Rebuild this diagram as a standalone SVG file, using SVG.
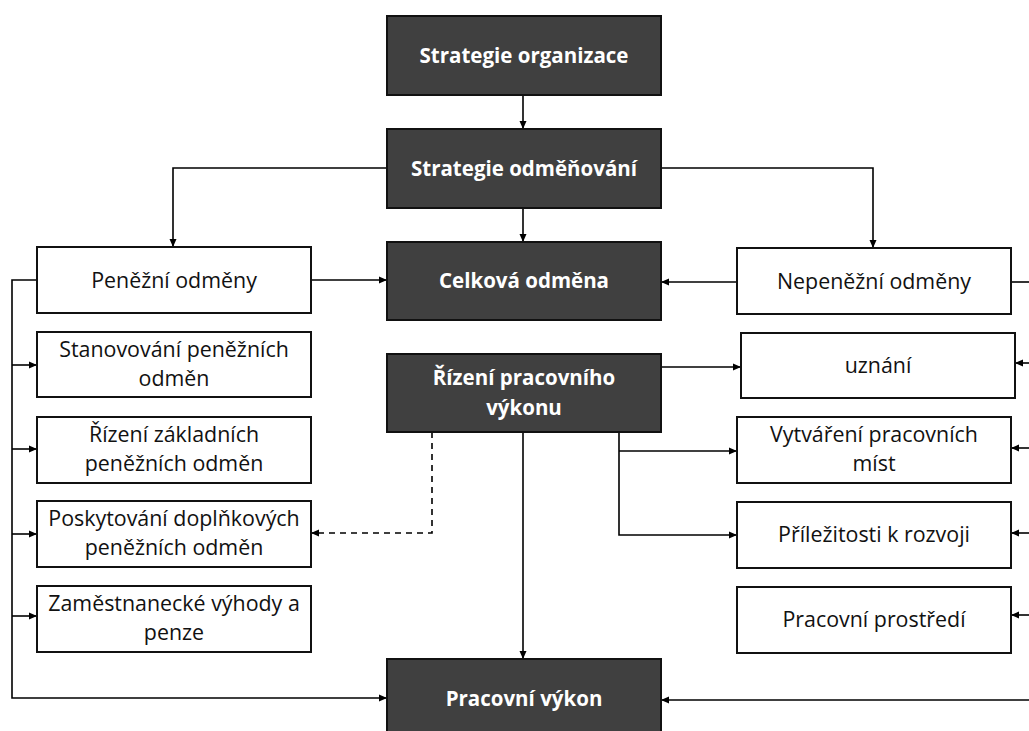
<svg xmlns="http://www.w3.org/2000/svg" width="1029" height="731" viewBox="0 0 1029 731">
<defs>
<marker id="ah" markerUnits="userSpaceOnUse" markerWidth="9" markerHeight="8" refX="8" refY="4" orient="auto">
<path d="M0,0.5 L8,4 L0,7.5 z" fill="#000"/>
</marker>
<style>
.dark{fill:#404040;stroke:#111;stroke-width:2}
.light{fill:#fff;stroke:#111;stroke-width:2}
.tb{font-family:"Open Sans","Liberation Sans",sans-serif;font-weight:bold;font-size:20.5px;fill:#fff;text-anchor:middle}
.tr{font-family:"Open Sans","Liberation Sans",sans-serif;font-size:21.4px;fill:#111;text-anchor:middle}
.c{fill:none;stroke:#000;stroke-width:1.6}
.a{marker-end:url(#ah)}
.d{stroke-dasharray:6,5}
</style>
</defs>
<rect width="1029" height="731" fill="#fff"/>
<g id="connectors">
<path class="c a" d="M523,95 V129"/>
<path class="c a" d="M523,208 V242"/>
<path class="c a" d="M387,168 H173 V247"/>
<path class="c a" d="M661,168 H873 V248"/>
<path class="c a" d="M311,280 H387"/>
<path class="c a" d="M737,282 H661"/>
<path class="c" d="M1011,282 H1029"/>
<path class="c a" d="M37,280 H12 V698 H387"/>
<path class="c a" d="M12,365 H37"/>
<path class="c a" d="M12,449 H37"/>
<path class="c a" d="M12,534 H37"/>
<path class="c a" d="M12,616 H37"/>
<path class="c a" d="M661,367 H741"/>
<path class="c a" d="M619,432 V535 H737"/>
<path class="c a" d="M619,451 H737"/>
<path class="c a" d="M523,432 V659"/>
<path class="c d a" d="M432,432 V533 H311"/>
<path class="c a" d="M1029,363 H1015"/>
<path class="c a" d="M1029,448 H1011"/>
<path class="c a" d="M1029,533 H1011"/>
<path class="c a" d="M1029,615 H1011"/>
<path class="c a" d="M1029,700 H661"/>
</g>
<g id="strategie-organizace"><rect class="dark" x="387" y="16" width="274" height="79"/><text class="tb" x="524" y="63">Strategie organizace</text></g>
<g id="strategie-odmenovani"><rect class="dark" x="387" y="129" width="274" height="79"/><text class="tb" x="524" y="176">Strategie odměňování</text></g>
<g id="celkova-odmena"><rect class="dark" x="387" y="242" width="274" height="78"/><text class="tb" x="524" y="288">Celková odměna</text></g>
<g id="rizeni-vykonu"><rect class="dark" x="387" y="354" width="274" height="78"/><text class="tb" x="524" y="385">Řízení pracovního</text><text class="tb" x="524" y="415">výkonu</text></g>
<g id="pracovni-vykon"><rect class="dark" x="387" y="659" width="274" height="79"/><text class="tb" x="524" y="706">Pracovní výkon</text></g>
<g id="penezni-odmeny"><rect class="light" x="37" y="247" width="274" height="66"/><text class="tr" x="174" y="288">Peněžní odměny</text></g>
<g id="stanovovani"><rect class="light" x="37" y="332" width="274" height="65"/><text class="tr" x="174" y="357">Stanovování peněžních</text><text class="tr" x="174" y="386">odměn</text></g>
<g id="rizeni-zakladnich"><rect class="light" x="37" y="417" width="274" height="66"/><text class="tr" x="174" y="442">Řízení základních</text><text class="tr" x="174" y="471">peněžních odměn</text></g>
<g id="poskytovani"><rect class="light" x="37" y="501" width="274" height="66"/><text class="tr" x="174" y="526">Poskytování doplňkových</text><text class="tr" x="174" y="555">peněžních odměn</text></g>
<g id="zamestnanecke"><rect class="light" x="37" y="586" width="274" height="66"/><text class="tr" x="174" y="611">Zaměstnanecké výhody a</text><text class="tr" x="174" y="640">penze</text></g>
<g id="nepenezni-odmeny"><rect class="light" x="737" y="248" width="274" height="66"/><text class="tr" x="874" y="289">Nepeněžní odměny</text></g>
<g id="uznani"><rect class="light" x="741" y="333" width="274" height="65"/><text class="tr" x="878" y="373">uznání</text></g>
<g id="vytvareni"><rect class="light" x="737" y="417" width="274" height="66"/><text class="tr" x="874" y="442">Vytváření pracovních</text><text class="tr" x="874" y="471">míst</text></g>
<g id="prilezitosti"><rect class="light" x="737" y="502" width="274" height="66"/><text class="tr" x="874" y="542">Příležitosti k rozvoji</text></g>
<g id="pracovni-prostredi"><rect class="light" x="737" y="587" width="274" height="66"/><text class="tr" x="874" y="627">Pracovní prostředí</text></g>
</svg>
